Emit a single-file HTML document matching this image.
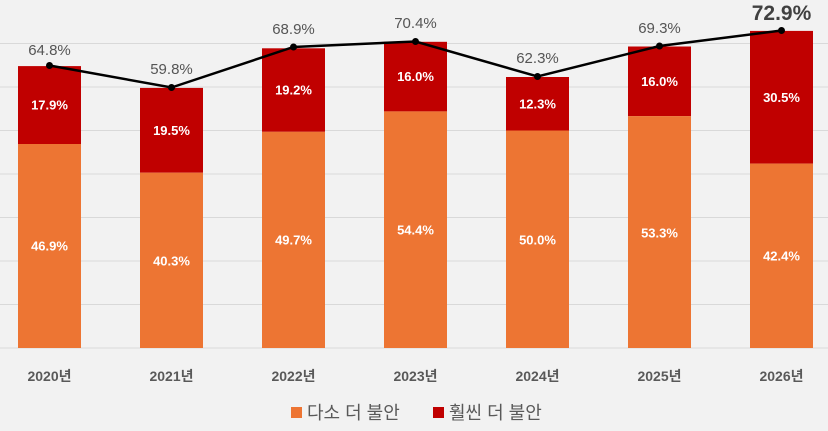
<!DOCTYPE html>
<html><head><meta charset="utf-8"><style>
body{margin:0;background:#f2f2f2;}
svg{display:block;font-family:"Liberation Sans","Noto Sans CJK KR",sans-serif;}
</style></head><body>
<svg width="828" height="431" viewBox="0 0 828 431">
<rect width="828" height="431" fill="#f2f2f2"/>
<g stroke="#d9d9d9" stroke-width="1">
<line x1="0" x2="828" y1="43.5" y2="43.5"/><line x1="0" x2="828" y1="87" y2="87"/>
<line x1="0" x2="828" y1="130.5" y2="130.5"/><line x1="0" x2="828" y1="174" y2="174"/>
<line x1="0" x2="828" y1="217.5" y2="217.5"/><line x1="0" x2="828" y1="261" y2="261"/>
<line x1="0" x2="828" y1="304.5" y2="304.5"/><line x1="0" x2="828" y1="348" y2="348"/>
</g>
<g>
<rect x="18" y="66.1" width="63" height="78" fill="#c00000"/><rect x="18" y="144" width="63" height="204" fill="#ed7533"/>
<rect x="140" y="87.9" width="63" height="84.8" fill="#c00000"/><rect x="140" y="172.7" width="63" height="175.3" fill="#ed7533"/>
<rect x="262" y="48.3" width="63" height="83.5" fill="#c00000"/><rect x="262" y="131.8" width="63" height="216.2" fill="#ed7533"/>
<rect x="384" y="41.8" width="63" height="69.6" fill="#c00000"/><rect x="384" y="111.4" width="63" height="236.6" fill="#ed7533"/>
<rect x="506" y="77" width="63" height="53.5" fill="#c00000"/><rect x="506" y="130.5" width="63" height="217.5" fill="#ed7533"/>
<rect x="628" y="46.5" width="63" height="69.6" fill="#c00000"/><rect x="628" y="116.1" width="63" height="231.9" fill="#ed7533"/>
<rect x="750" y="30.9" width="63" height="132.7" fill="#c00000"/><rect x="750" y="163.6" width="63" height="184.4" fill="#ed7533"/>
</g>
<g fill="#fff" font-size="13" font-weight="bold" text-anchor="middle">
<text x="49.5" y="109.5">17.9%</text><text x="49.5" y="250.5">46.9%</text>
<text x="171.5" y="135">19.5%</text><text x="171.5" y="265.5">40.3%</text>
<text x="293.5" y="94.5">19.2%</text><text x="293.5" y="244.5">49.7%</text>
<text x="415.5" y="81">16.0%</text><text x="415.5" y="234.5">54.4%</text>
<text x="537.5" y="108.5">12.3%</text><text x="537.5" y="244.5">50.0%</text>
<text x="659.5" y="86">16.0%</text><text x="659.5" y="237.5">53.3%</text>
<text x="781.5" y="102">30.5%</text><text x="781.5" y="260.5">42.4%</text>
</g>
<polyline points="49.5,65.5 171.5,87.5 293.5,47 415.5,41.5 537.5,76.5 659.5,46 781.5,30.5" fill="none" stroke="#000" stroke-width="2.5"/>
<g fill="#000">
<circle cx="49.5" cy="65.5" r="3.5"/><circle cx="171.5" cy="87.5" r="3.5"/><circle cx="293.5" cy="47" r="3.5"/>
<circle cx="415.5" cy="41.5" r="3.5"/><circle cx="537.5" cy="76.5" r="3.5"/><circle cx="659.5" cy="46" r="3.5"/><circle cx="781.5" cy="30.5" r="3.5"/>
</g>
<g fill="#555" font-size="15" text-anchor="middle">
<text x="49.5" y="55">64.8%</text><text x="171.5" y="74">59.8%</text><text x="293.5" y="34">68.9%</text>
<text x="415.5" y="28">70.4%</text><text x="537.5" y="63">62.3%</text><text x="659.5" y="33">69.3%</text>
<text x="781.5" y="20" font-size="21" font-weight="bold" fill="#404040">72.9%</text>
</g>
<g fill="#595959" font-size="14" font-weight="bold" text-anchor="middle">
<text x="49.5" y="381">2020년</text><text x="171.5" y="381">2021년</text><text x="293.5" y="381">2022년</text>
<text x="415.5" y="381">2023년</text><text x="537.5" y="381">2024년</text><text x="659.5" y="381">2025년</text><text x="781.5" y="381">2026년</text>
</g>
<rect x="291" y="407" width="11" height="11" fill="#ed7533"/>
<text x="307" y="419" font-size="18" fill="#595959">다소 더 불안</text>
<rect x="433" y="407" width="11" height="11" fill="#c00000"/>
<text x="449" y="419" font-size="18" fill="#595959">훨씬 더 불안</text>
</svg>
</body></html>
